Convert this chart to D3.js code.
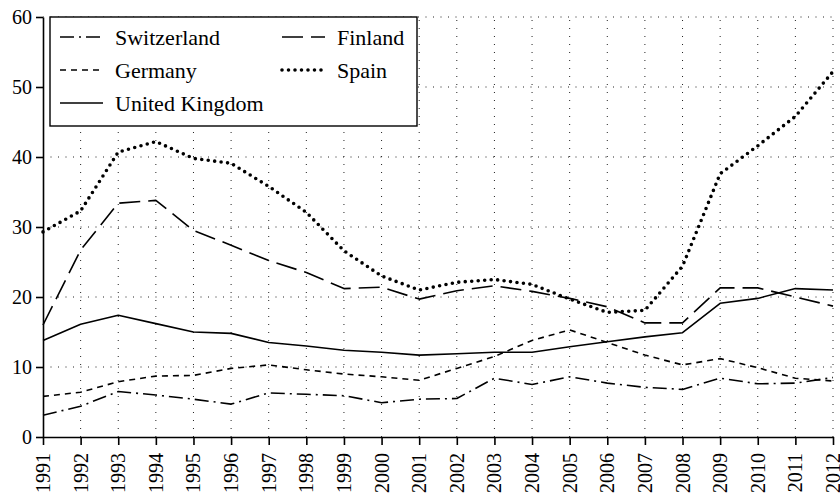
<!DOCTYPE html>
<html>
<head>
<meta charset="utf-8">
<script src="https://cdn.jsdelivr.net/npm/d3@7"></script>
<style>
    svg text { font-family: 'Liberation Serif' !important; fill: #000; }
</style>
</head>
<body style="margin:0">
<div id="container"></div>
<script>
// chart data
const years = d3.range(1991, 2013);
const yTicks = [0, 10, 20, 30, 40, 50, 60];
const switzerland = [3.1, 4.4, 6.5, 6.0, 5.4, 4.7, 6.3, 6.1, 5.9, 4.9, 5.4, 5.5, 8.4, 7.5, 8.6, 7.7, 7.1, 6.8, 8.4, 7.6, 7.7, 8.5];
const germany = [5.8, 6.4, 7.9, 8.7, 8.8, 9.8, 10.3, 9.6, 9.0, 8.6, 8.1, 9.8, 11.5, 13.8, 15.3, 13.5, 11.7, 10.3, 11.2, 9.9, 8.4, 8.0];
const uk = [13.8, 16.1, 17.4, 16.2, 15.0, 14.8, 13.5, 13.0, 12.4, 12.1, 11.7, 11.9, 12.1, 12.1, 12.9, 13.6, 14.3, 14.9, 19.1, 19.8, 21.2, 21.0];
const finland = [16.0, 26.7, 33.4, 33.8, 29.5, 27.4, 25.2, 23.5, 21.2, 21.4, 19.7, 20.9, 21.6, 20.8, 19.8, 18.6, 16.3, 16.3, 21.3, 21.3, 20.0, 18.7];
const spain = [29.3, 32.3, 40.7, 42.2, 39.8, 39.1, 35.8, 32.1, 26.6, 23.0, 21.0, 22.1, 22.5, 21.8, 19.7, 17.8, 18.1, 24.4, 37.6, 41.6, 45.8, 52.2];

// series names in legend order, with line styles
const series = [
    { name: 'Switzerland', values: switzerland, dash: '14,5,2,5', width: 1.6, cap: 'butt' },
    { name: 'Finland', values: finland, dash: '21,8', width: 1.6, cap: 'butt' },
    { name: 'Germany', values: germany, dash: '6,5', width: 1.6, cap: 'butt' },
    { name: 'Spain', values: spain, dash: '0,6.5', width: 3.6, cap: 'round' },
    { name: 'United Kingdom', values: uk, dash: null, width: 1.6, cap: 'butt' }
];

// svg chart dimensions
const w = 840;
const h = 495;
const pLeft = 43, pRight = 833, pTop = 17, pBottom = 437;

// create svg
const svg = d3.select('#container')
                .append('svg')
                .attr('width', w)
                .attr('height', h);

// create scales
const xScale = d3.scaleLinear()
                .domain([1991, 2012])
                .range([pLeft, pRight]);

const yScale = d3.scaleLinear()
                .domain([0, 60])
                .range([pBottom, pTop]);

// dotted grid
svg.append('g')
    .selectAll('line')
    .data(yTicks.slice(1))
    .join('line')
    .attr('x1', pLeft)
    .attr('x2', pRight)
    .attr('y1', d => yScale(d))
    .attr('y2', d => yScale(d))
    .attr('stroke', '#222')
    .attr('stroke-width', 1)
    .attr('stroke-dasharray', '1,6.5');

svg.append('g')
    .selectAll('line')
    .data(years.slice(1))
    .join('line')
    .attr('x1', d => xScale(d))
    .attr('x2', d => xScale(d))
    .attr('y1', pBottom)
    .attr('y2', pTop)
    .attr('stroke', '#222')
    .attr('stroke-width', 1)
    .attr('stroke-dasharray', '1,7');

// lines
const line = d3.line()
                .x((d, i) => xScale(years[i]))
                .y(d => yScale(d));

svg.append('g')
    .selectAll('path')
    .data(series)
    .join('path')
    .attr('d', d => line(d.values))
    .attr('fill', 'none')
    .attr('stroke', '#000')
    .attr('stroke-width', d => d.width)
    .attr('stroke-linecap', d => d.cap)
    .attr('stroke-linejoin', 'round')
    .attr('stroke-dasharray', d => d.dash);

// create axes (labels are added below as plain svg text)
const xAxis = d3.axisBottom(xScale)
                .tickValues(years)
                .tickFormat('')
                .tickSize(8)
                .tickSizeOuter(0);
const yAxis = d3.axisLeft(yScale)
                .tickValues(yTicks)
                .tickFormat('')
                .tickSize(7)
                .tickSizeOuter(0);

svg.append('g')
    .attr('transform', `translate(0, ${pBottom})`)
    .attr('id', 'x-axis')
    .call(xAxis);

svg.append('g')
    .attr('transform', `translate(${pLeft}, 0)`)
    .attr('id', 'y-axis')
    .call(yAxis);

svg.selectAll('.domain, .tick line')
    .attr('stroke', '#000')
    .attr('stroke-width', 1.6);

// x tick labels, rotated
svg.selectAll('text.xlab')
    .data(years)
    .join('text')
    .attr('class', 'xlab')
    .style('font-family', 'Liberation Serif')
    .style('font-size', '20px')
    .attr('text-anchor', 'end')
    .attr('transform', d => `translate(${xScale(d)}, ${pBottom + 16}) rotate(-90)`)
    .attr('dy', '0.35em')
    .text(d => d);

// y tick labels
svg.selectAll('text.ylab')
    .data(yTicks)
    .join('text')
    .attr('class', 'ylab')
    .style('font-family', 'Liberation Serif')
    .style('font-size', '20px')
    .attr('text-anchor', 'end')
    .attr('x', pLeft - 11)
    .attr('y', d => yScale(d))
    .attr('dy', '0.35em')
    .text(d => d);

// legend box
svg.append('rect')
    .attr('x', 50)
    .attr('y', 17)
    .attr('width', 367)
    .attr('height', 109)
    .attr('fill', '#fff')
    .attr('stroke', '#000')
    .attr('stroke-width', 1.4);

const legX = (d, i) => (i % 2 ? 282 : 60);
const legY = (d, i) => 37 + Math.floor(i / 2) * 33;

svg.selectAll('line.leg')
    .data(series)
    .join('line')
    .attr('class', 'leg')
    .attr('x1', legX)
    .attr('x2', (d, i) => legX(d, i) + 43)
    .attr('y1', legY)
    .attr('y2', legY)
    .attr('stroke', '#000')
    .attr('stroke-width', d => d.width)
    .attr('stroke-linecap', d => d.cap)
    .attr('stroke-dasharray', d => d.dash);

svg.selectAll('text.leg')
    .data(series)
    .join('text')
    .attr('class', 'leg')
    .style('font-family', 'Liberation Serif')
    .style('font-size', '22px')
    .attr('x', (d, i) => legX(d, i) + 55)
    .attr('y', legY)
    .attr('dy', '0.35em')
    .text(d => d.name);
</script>
</body>
</html>
